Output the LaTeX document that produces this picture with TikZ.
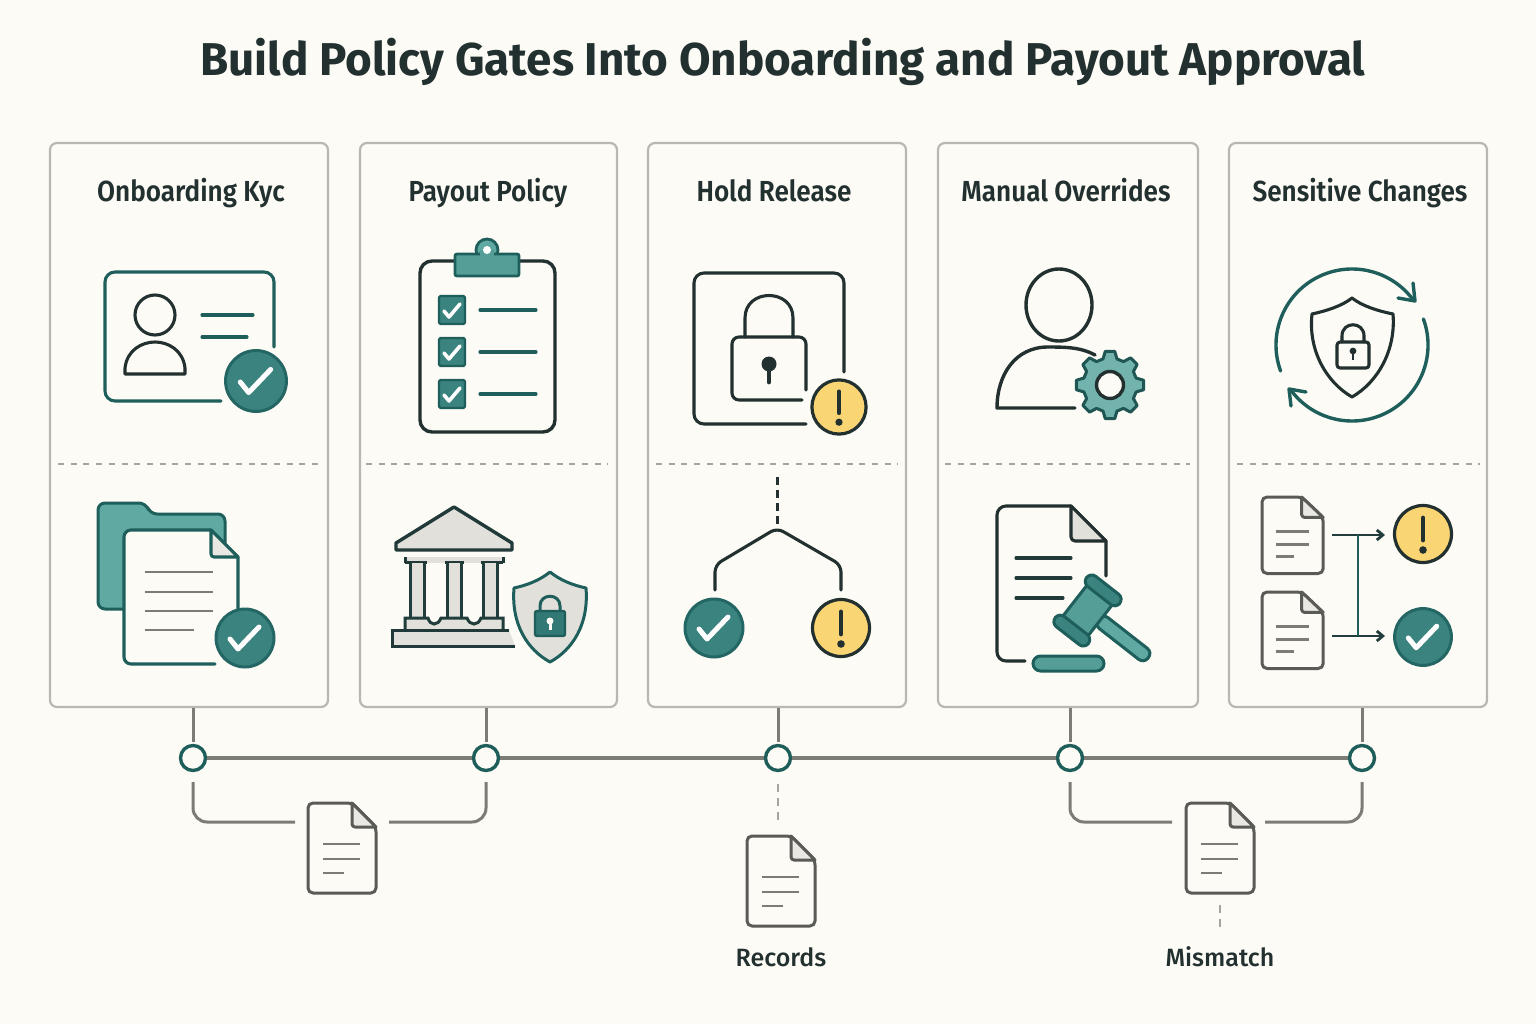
\documentclass[tikz,border=0pt]{standalone}
\usepackage{fontspec}
\usetikzlibrary{arrows.meta}
\setmainfont{Fira Sans}
\newfontfamily\titlefont[FakeStretch=0.995]{Fira Sans}
\newfontfamily\headfont[FakeStretch=0.9,UprightFont={* Medium},BoldFont={* SemiBold}]{Fira Sans}
\newfontfamily\capfont[FakeStretch=1.0,UprightFont={* Medium},BoldFont={* SemiBold}]{Fira Sans}
\definecolor{bgc}{HTML}{FDFBF6}
\definecolor{ink}{HTML}{22302F}
\definecolor{tealdk}{HTML}{1E5F5C}
\definecolor{tealmd}{HTML}{3A837E}
\definecolor{teallt}{HTML}{5FA9A2}
\definecolor{cardedge}{HTML}{B9B7B1}
\definecolor{warnc}{HTML}{FAD574}
\definecolor{linegray}{HTML}{7C7C76}
\definecolor{docgray}{HTML}{5A5A56}
\definecolor{dashgray}{HTML}{A6A49E}
\definecolor{paleg}{HTML}{E1E0DB}
\tikzset{
 card/.style={draw=cardedge,line width=2.2pt,rounded corners=7pt,fill=bgc,inner sep=0pt},
 cardtitle/.style={font=\headfont\bfseries\fontsize{29}{32}\selectfont,text=ink,inner sep=0pt,anchor=base},
 sep/.style={draw=dashgray,line width=2.2pt,dash pattern=on 6pt off 6.7pt},
 tline/.style={ink,line width=3.1pt,line cap=round,line join=round},
 tealline/.style={tealdk,line width=3.1pt,line cap=round,line join=round},
 gline/.style={linegray,line width=3pt,line cap=butt},
 textline/.style={linegray,line width=2.9pt},
 ringn/.style={circle,draw=tealdk,line width=3.4pt,fill=bgc,minimum size=25pt,inner sep=0pt},
 caption/.style={font=\capfont\fontsize{25}{28}\selectfont,text=ink,inner sep=0pt,anchor=base},
 checkb/.pic={
   \fill[tealmd,draw=tealdk!80!tealmd,line width=3pt] (0,0) circle[radius=29pt];
   \draw[white,line width=5pt,line cap=round,line join=round] (-15,1) -- (-7,11) -- (14,-11);
 },
 warnb/.pic={
   \fill[warnc,draw=ink,line width=3.2pt] (0,0) circle[radius=28.5pt];
   \draw[ink,line width=4.8pt,line cap=round] (0,-16) -- (0,6);
   \fill[ink] (0,16) circle[radius=3.8pt];
 },
 docicon/.pic={
   \draw[docgray,line width=3pt,rounded corners=5pt,line join=round,fill=bgc] (44,0) -- (0,0) -- (0,90) -- (68,90) -- (68,24) -- cycle;
   \draw[docgray,line width=3pt,line join=round,fill=paleg!70!bgc] (44,0) [rounded corners=3pt] -- (44,24) [sharp corners] -- (68,24) -- cycle;
   \draw[textline] (15,41) -- (52,41) (15,56) -- (52,56) (15,70) -- (36,70);
 },
 cbox/.pic={
   \fill[tealmd,draw=tealdk,line width=2.4pt,rounded corners=1.5pt] (-13,-14) rectangle (13,14);
   \draw[white,line width=3.6pt,line cap=round,line join=round] (-8,1) -- (-3,7) -- (8,-6);
 }
}
\begin{document}
\begin{tikzpicture}[x=1pt,y=-1pt]
\useasboundingbox (0,0) rectangle (1536,1024);
\fill[bgc] (0,0) rectangle (1536,1024);
\node[font=\titlefont\bfseries\fontsize{46}{50}\selectfont,text=ink,inner sep=0pt,anchor=base] (title) at (783,76) {Build Policy Gates Into Onboarding and Payout Approval};

% cards
\node[card,minimum width=278pt,minimum height=564pt] (c1) at (189,425) {};
\node[card,minimum width=257pt,minimum height=564pt] (c2) at (488.5,425) {};
\node[card,minimum width=258pt,minimum height=564pt] (c3) at (777,425) {};
\node[card,minimum width=260pt,minimum height=564pt] (c4) at (1068,425) {};
\node[card,minimum width=258pt,minimum height=564pt] (c5) at (1358,425) {};
\node[cardtitle] (h1) at (191,202) {Onboarding Kyc};
\node[cardtitle] (h2) at (488,202) {Payout Policy};
\node[cardtitle] (h3) at (774,202) {Hold Release};
\node[cardtitle] (h4) at (1066,202) {Manual Overrides};
\node[cardtitle] (h5) at (1360,202) {Sensitive Changes};
\draw[sep] (58,464) -- (318,464);
\draw[sep] (366,464) -- (608,464);
\draw[sep] (656,464) -- (898,464);
\draw[sep] (945,464) -- (1190,464);
\draw[sep] (1237,464) -- (1480,464);

% ID card
\draw[tealline,rounded corners=10pt] (274,347) -- (274,272) -- (105,272) -- (105,401) -- (221,401);
\draw[tline] (155,315) ellipse[x radius=20pt,y radius=20pt];
\draw[tline] (125,374) -- (125,368) .. controls (127,350) and (142,342) .. (155,342) .. controls (168,342) and (183,350) .. (185,368) -- (185,374) -- cycle;
\draw[tealline] (202,315) -- (253,315) (202,337) -- (247,337);
\pic[scale=1.05] at (256,381) {checkb};

% Clipboard
\draw[tline,line width=3.4pt,rounded corners=12pt] (420,261) rectangle (555,432);
\fill[teallt,draw=tealdk,line width=2.8pt] (487,250) circle[radius=11pt];
\fill[teallt!85!tealdk,draw=tealdk,line width=2.8pt,rounded corners=2pt] (455,254) rectangle (519,276);
\fill[teallt!85!tealdk] (480,250) rectangle (494,256);
\fill[white] (487,250) circle[radius=4pt];
\pic at (452,310) {cbox};
\pic at (452,352) {cbox};
\pic at (452,394) {cbox};
\draw[tealline] (480,310) -- (536,310) (480,352) -- (536,352) (480,394) -- (536,394);

% Folder and document
\fill[teallt,draw=tealdk,line width=3pt,rounded corners=7pt] (98,503) -- (146,503) -- (150,514) -- (225,514) -- (225,609) -- (98,609) -- cycle;
\fill[bgc,draw=none,rounded corners=7pt] (124,530) -- (211,530) -- (238,557) -- (238,664) -- (124,664) -- cycle;
\draw[tealline,rounded corners=7pt] (215,664) -- (124,664) -- (124,530) -- (211,530);
\draw[tealline] (211,530) -- (238,557) -- (238,610);
\draw[tealline,fill=paleg!70!bgc,line join=round] (211,530) [rounded corners=3pt] -- (211,557) [sharp corners] -- (238,557) -- cycle;
\draw[textline] (145,572) -- (213,572) (145,592) -- (213,592) (145,611) -- (213,611) (145,630) -- (194,630);
\pic at (245,638) {checkb};

% Bank
\draw[ink!80!tealdk,fill=paleg,line width=3.4pt,line join=round] (454,507) -- (512,543) -- (512,550) -- (396,550) -- (396,543) -- cycle;
\fill[paleg] (405,557) rectangle (503,563);
\draw[ink!80!tealdk,line width=3pt] (405,563) -- (405,557) (503,563) -- (503,557) (405,562) -- (427,562) (445,562) -- (464,562) (481,562) -- (503,562);
\foreach \cx in {417,454,490}{
  \fill[paleg] (\cx-6,563) rectangle (\cx+6,617);
  \draw[ink!70!tealdk,line width=3pt] (\cx-7,563) -- (\cx-7,617) (\cx+7,617) -- (\cx+7,563);
}
\draw[ink!70!tealdk,fill=paleg,line width=3pt] (405,630) -- (405,618) -- (428,618) .. controls (430,626) and (438,626) .. (441,618) -- (467,618) .. controls (470,626) and (478,626) .. (481,618) -- (503,618) -- (503,630);
\draw[ink!80!tealdk,fill=paleg,line width=3pt] (509,630) -- (392,630) -- (392,646) -- (515,646);
\draw[tealdk,fill=paleg,line width=3pt,line join=round] (550,572) .. controls (560,580) and (572,585) .. (586,588) .. controls (589,625) and (572,650) .. (550,662) .. controls (528,650) and (511,625) .. (514,588) .. controls (528,585) and (540,580) .. (550,572) -- cycle;
\draw[tealdk,line width=3pt] (540,612) -- (540,606) .. controls (540,593) and (560,593) .. (560,606) -- (560,612);
\fill[tealmd!70!tealdk,draw=tealdk,line width=2.4pt,rounded corners=2pt] (535,611) rectangle (565,636);
\fill[bgc] (550,621) circle[radius=3.5pt];
\fill[bgc] (548.5,622) rectangle (551.5,630);

% Hold and lock
\draw[tline,rounded corners=10pt] (844,372) -- (844,273) -- (694,273) -- (694,424) -- (806,424);
\draw[tline,rounded corners=7pt] (806,390) -- (806,337) -- (732,337) -- (732,400) -- (802,400);
\draw[tline] (745,337) -- (745,318) .. controls (745,288) and (793,288) .. (793,318) -- (793,337);
\fill[ink] (769,364) circle[radius=7.5pt];
\draw[ink,line width=4.8pt,line cap=round] (769,366) -- (769,382);
\pic[scale=.95] at (839,407) {warnb};

% Branch
\draw[ink,line width=3pt,dash pattern=on 8pt off 5pt] (777,477) -- (777,524);
\draw[tline,rounded corners=7pt] (715,590) -- (715,565) -- (777,528) -- (841,565) -- (841,590);
\pic at (714,628) {checkb};
\pic at (841,628) {warnb};

% Person with gear
\draw[tline,line width=3.4pt] (1059,305) ellipse[x radius=33pt,y radius=36pt];
\draw[tline,line width=3.4pt] (1095,355) .. controls (1082,348) and (1070,347) .. (1048,347) .. controls (1015,347) and (997,375) .. (997,408) -- (1075,408);
\fill[teallt!88!white,draw=tealdk!80!ink,line width=3pt,line join=round] ([shift={(1110,385)}]75:27pt) \foreach \a in {90,135,180,225,270,315,360,405}{ -- ([shift={(1110,385)}]\a-15:27pt) -- ([shift={(1110,385)}]\a-8:34pt) -- ([shift={(1110,385)}]\a+8:34pt) -- ([shift={(1110,385)}]\a+15:27pt)} -- cycle;
\fill[bgc,draw=ink,line width=3.4pt] (1110,385) circle[radius=13.5pt];

% Document and gavel
\draw[tline,rounded corners=9pt] (1025,661) -- (997,661) -- (997,506) -- (1071,506);
\draw[tline] (1071,506) -- (1106,541) -- (1106,576);
\draw[tline,fill=paleg,line join=round] (1071,506) [rounded corners=4pt] -- (1071,541) [sharp corners] -- (1106,541) -- cycle;
\draw[tealline,ink!80!tealdk] (1016,558) -- (1071,558) (1016,578) -- (1071,578) (1016,598) -- (1063,598);
\begin{scope}[shift={(1087.5,610.5)},rotate=-38]
  \fill[teallt,draw=tealdk,line width=3pt,rounded corners=6.5pt] (14,-7) rectangle (77,7);
  \fill[teallt!85!tealdk,draw=tealdk,line width=3pt] (-16,-21) rectangle (16,21);
  \fill[tealmd,draw=tealdk,line width=3pt,rounded corners=6.5pt] (-21,-32) rectangle (21,-19);
  \fill[tealmd,draw=tealdk,line width=3pt,rounded corners=6.5pt] (-21,19) rectangle (21,32);
\end{scope}
\fill[teallt!85!tealdk,draw=tealdk,line width=3pt,rounded corners=7.5pt] (1033,656) rectangle (1104,671);

% Shield cycle
\draw[tealline,line width=3.4pt] ([shift={(1352,345)}]200:76pt) arc[start angle=200,end angle=37,radius=76pt];
\draw[tealline,line width=3.4pt] (1413,283) -- (1415,301) -- (1398,298);
\draw[tealline,line width=3.4pt] ([shift={(1352,345)}]20:76pt) arc[start angle=20,end angle=-143,radius=76pt];
\draw[tealline,line width=3.4pt] (1291,406) -- (1289,389) -- (1306,392);
\draw[tline] (1352,298) .. controls (1362,306) and (1378,311) .. (1393,314) .. controls (1396,350) and (1378,382) .. (1352,397) .. controls (1326,382) and (1308,350) .. (1312,314) .. controls (1326,311) and (1342,306) .. (1352,298) -- cycle;
\draw[tline] (1342,342) -- (1342,336) .. controls (1342,321) and (1364,321) .. (1364,336) -- (1364,342);
\draw[tline,rounded corners=3pt] (1337,342) rectangle (1369,368);
\fill[ink] (1353,351) circle[radius=3.4pt];
\draw[ink,line width=2.8pt] (1353,351) -- (1353,360);

% Two documents and outcomes
\pic[xscale=.9,yscale=.85] at (1262,497) {docicon};
\pic[xscale=.9,yscale=.85] at (1262,592) {docicon};
\pic at (1423,534) {warnb};
\pic[scale=.98] at (1423,637) {checkb};
\coordinate (fa) at (1332,535);
\coordinate (fb) at (1332,636);
\coordinate (ja) at (1358,535);
\coordinate (jb) at (1358,636);
\coordinate (ta) at (1385,535);
\coordinate (tb) at (1385,636);
\draw[ink!70!tealdk,line width=2.8pt,-{Straight Barb[length=6pt,width=10pt]}] (fa) -- (ta);
\draw[ink!70!tealdk,line width=2.8pt,-{Straight Barb[length=6pt,width=10pt]}] (fb) -- (tb);
\draw[tealdk,line width=2.8pt] (ja) -- (jb);

% Timeline
\node[ringn] (t1) at (193,758) {};
\node[ringn] (t2) at (486,758) {};
\node[ringn] (t3) at (778,758) {};
\node[ringn] (t4) at (1070,758) {};
\node[ringn] (t5) at (1362,758) {};
\draw[linegray,line width=3.6pt] (t1) -- (t2);
\draw[linegray,line width=3.6pt] (t2) -- (t3);
\draw[linegray,line width=3.6pt] (t3) -- (t4);
\draw[linegray,line width=3.6pt] (t4) -- (t5);
\draw[gline,shorten >=2pt] (t1 |- c1.south) -- (t1);
\draw[gline,shorten >=2pt] (t2 |- c2.south) -- (t2);
\draw[gline,shorten >=2pt] (t3 |- c3.south) -- (t3);
\draw[gline,shorten >=2pt] (t4 |- c4.south) -- (t4);
\draw[gline,shorten >=2pt] (t5 |- c5.south) -- (t5);

\pic at (308,803) {docicon};
\pic at (747,836) {docicon};
\pic at (1186,803) {docicon};
\coordinate (d1w) at (295,822);
\coordinate (d1e) at (389,822);
\coordinate (d2n) at (778,823);
\coordinate (d3w) at (1172,822);
\coordinate (d3e) at (1265,822);
\coordinate (d3s) at (1220,905);
\coordinate (d3t) at (1220,932);
\draw[gline,rounded corners=14pt,shorten <=10pt] (t1.south) |- (d1w);
\draw[gline,rounded corners=14pt,shorten <=10pt] (t2.south) |- (d1e);
\draw[gline,rounded corners=14pt,shorten <=10pt] (t4.south) |- (d3w);
\draw[gline,rounded corners=14pt,shorten <=10pt] (t5.south) |- (d3e);
\draw[dashgray,line width=2.2pt,dash pattern=on 8pt off 6pt,shorten <=12pt] (t3.south) -- (d2n);
\draw[dashgray,line width=2.2pt,dash pattern=on 8pt off 6pt] (d3s) -- (d3t);
\node[caption] (lb1) at (781,966) {Records};
\node[caption] (lb2) at (1220,966) {Mismatch};
\end{tikzpicture}
\end{document}
